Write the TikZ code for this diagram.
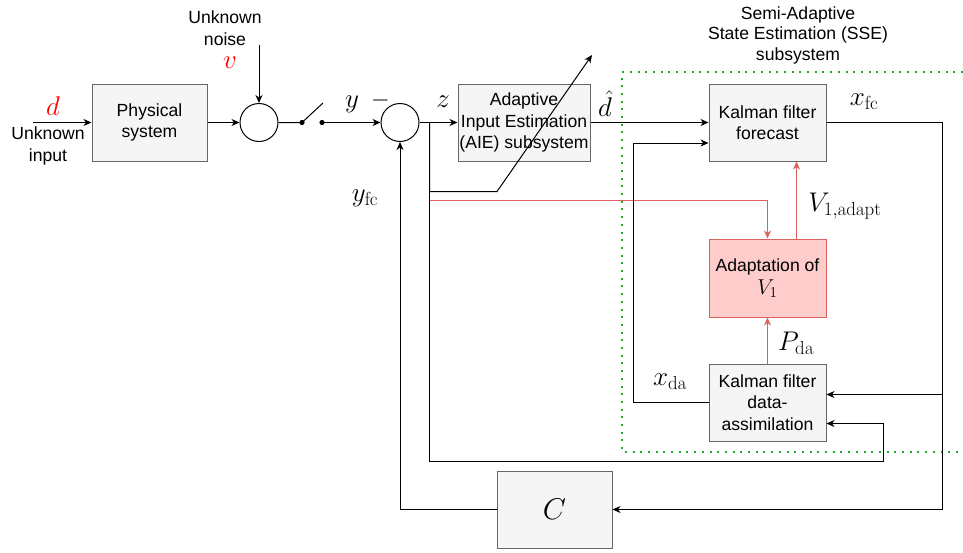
\documentclass[tikz,border=0pt]{standalone}
\usepackage{fix-cm}
\usepackage{amsmath}
\usepackage[no-math]{fontspec}
\setmainfont{Liberation Sans}
\usetikzlibrary{arrows.meta,positioning,calc}

\definecolor{boxfill}{HTML}{F5F5F5}
\definecolor{boxline}{HTML}{666666}
\definecolor{adfill}{HTML}{FFCCCC}
\definecolor{adline}{HTML}{D9625E}
\definecolor{ssegreen}{HTML}{22AA22}
\newcommand\txtsz{\fontsize{17.6}{21.5}\selectfont}
\newcommand\mathsz{\fontsize{27}{30}\selectfont}

\begin{document}
\begin{tikzpicture}[x=1pt,y=-1pt,
    blk/.style={draw=boxline, fill=boxfill, line width=1pt, minimum width=117pt, minimum height=77pt, inner sep=0pt, align=center, font=\txtsz},
    sumpt/.style={draw, circle, line width=1pt, minimum size=38pt, inner sep=0pt},
    arr/.style={line width=1pt, -{Stealth[length=8pt,width=7pt,inset=2.5pt]}},
    redarr/.style={arr, draw=adline},
    lbl/.style={font=\mathsz, inner sep=0pt},
    txt/.style={font=\txtsz, align=center, inner sep=0pt}]
  \useasboundingbox (0,0) rectangle (963,552);

  % blocks
  \node[blk, minimum width=115pt] (phys) at (149.5,122.5) {Physical\\system};
  \node[sumpt] (sum1) at (259,122.5) {};
  \node[sumpt] (sum2) at (400,122.5) {};
  \node[blk, minimum width=132pt] (aie) at (524,122.5) {Adaptive\\Input Estimation\\(AIE) subsystem};
  \node[blk] (kff) at (767.5,122.5) {Kalman filter\\forecast};
  \node[blk, draw=adline, fill=adfill, minimum height=78pt] (adapt) at (767.5,278) {Adaptation of\\[1pt]{\fontsize{21.5}{24}\selectfont$V_1$}};
  \node[blk] (kfda) at (767.5,402.5) {Kalman filter\\data-\\assimilation};
  \node[blk, minimum width=115pt] (cblock) at (554.5,509.5) {\fontsize{30}{32}\selectfont$C$};

  % SSE frame
  \draw[ssegreen, line width=2pt, dash pattern=on 2pt off 5.7pt] (963,72) -| (622,452) -- (963,452);
  \node[txt, font=\fontsize{17.6}{20.5}\selectfont] (ssetxt) at (798,35) {Semi-Adaptive\\State Estimation (SSE)\\subsystem};

  % texts and labels
  \node[txt] (dtxt) at (48,146) {Unknown\\input};
  \node[lbl, red] (dlbl) at (53,106) {$d$};
  \node[txt] (vtxt) at (225,28) {Unknown\\noise};
  \node[lbl, red] (vlbl) at (230,63) {$v$};
  \node[lbl] (ylbl) at (352,104) {$y$};
  \node[inner sep=0pt, font=\fontsize{24}{26}\selectfont] (minus) at (380.5,100) {$-$};
  \node[lbl] (zlbl) at (443,102) {$z$};
  \node[lbl] (dhat) at (605,104) {$\hat{d}$};
  \node[lbl] (xfc) at (864,102) {$x_{\mathrm{fc}}$};
  \node[lbl] (yfc) at (365,198) {$y_{\mathrm{fc}}$};
  \node[lbl] (v1ad) at (845,206) {$V_{1,\mathrm{adapt}}$};
  \node[lbl] (pda) at (796,343) {$P_{\mathrm{da}}$};
  \node[lbl] (xda) at (670,382) {$x_{\mathrm{da}}$};

  % switch
  \coordinate (swA) at (302,122.5);
  \coordinate (swB) at (322,122.5);
  \coordinate (swtip) at (323,103);
  \fill (swA) circle (2.6pt) (swB) circle (2.6pt);

  \coordinate (din) at (33,122.5);
  \coordinate (noisein) at (259,45);
  \coordinate (zsplit) at (429.5,122.5);
  \coordinate (kink) at (497,191.5);
  \coordinate (aietip) at (592,55);
  \coordinate (bloop) at (883.5,461.5);
  \coordinate (fbR) at (942.5,509.5);
  \coordinate (xfcsplit) at (942.5,394.5);
  \coordinate (xdaL) at (633.5,402.5);

  % connectors
  \draw[arr] (din) -- (phys);
  \draw[arr] (phys) -- (sum1);
  \draw[arr] (noisein) -- (sum1);
  \draw[line width=1pt] (sum1) -- (swA) -- (swtip);
  \draw[arr] (swB) -- (sum2);
  \draw[arr] (sum2) -- (aie);
  \draw[arr] (aie) -- (kff);
  \draw[arr] (zsplit) |- (kink) -- (aietip);
  \draw[redarr] ($(zsplit)+(0,78)$) -| (adapt);
  \draw[arr] (zsplit) |- (bloop) |- ($(kfda.east)+(0,21)$);
  \draw[arr] (kff) -| (fbR) -- (cblock);
  \draw[arr] (xfcsplit) -- (kfda.east |- xfcsplit);
  \draw[arr] (cblock) -| (sum2);
  \draw[arr] (kfda) -- (xdaL) |- ($(kff.west)+(0,20.5)$);
  \draw[redarr] (kfda) -- (adapt);
  \draw[redarr] ($(adapt.north)+(29,0)$) -- ($(kff.south)+(29,0)$);
\end{tikzpicture}
\end{document}
